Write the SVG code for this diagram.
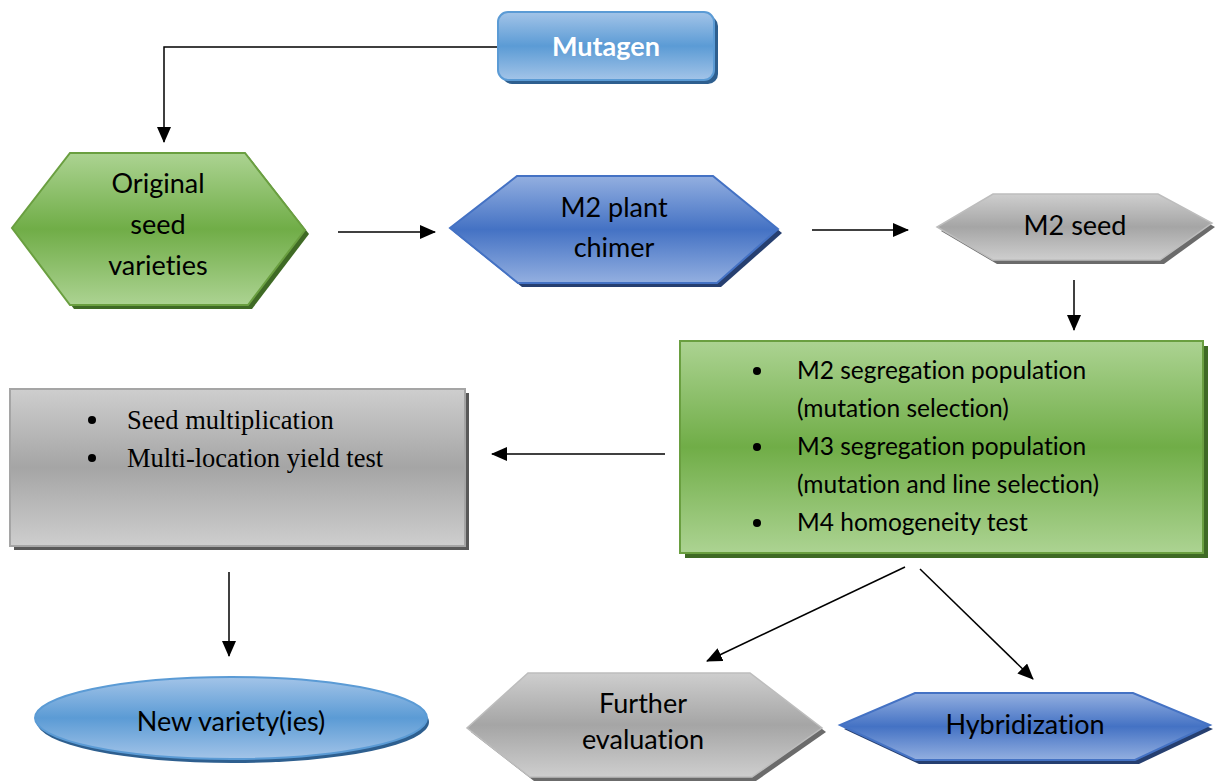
<svg xmlns="http://www.w3.org/2000/svg" width="1215" height="781" viewBox="0 0 1215 781">
<defs>
<linearGradient id="gBlueL" x1="0" y1="0" x2="0" y2="1">
<stop offset="0" stop-color="#a3c4e8"/><stop offset="0.5" stop-color="#5b9bd5"/><stop offset="1" stop-color="#a3c4e8"/>
</linearGradient>
<linearGradient id="gBlue" x1="0" y1="0" x2="0" y2="1">
<stop offset="0" stop-color="#93afe0"/><stop offset="0.5" stop-color="#4472c4"/><stop offset="1" stop-color="#93afe0"/>
</linearGradient>
<linearGradient id="gGreen" x1="0" y1="0" x2="0" y2="1">
<stop offset="0" stop-color="#acd392"/><stop offset="0.5" stop-color="#70ad47"/><stop offset="1" stop-color="#acd392"/>
</linearGradient>
<linearGradient id="gGray" x1="0" y1="0" x2="0" y2="1">
<stop offset="0" stop-color="#cecece"/><stop offset="0.5" stop-color="#a5a5a5"/><stop offset="1" stop-color="#cecece"/>
</linearGradient>
<marker id="ah" markerUnits="userSpaceOnUse" markerWidth="16" markerHeight="14" refX="15" refY="7" orient="auto">
<path d="M0,0 L16,7 L0,14 z" fill="#000"/>
</marker>
</defs>
<style>
.t{font-family:Lato,"Open Sans","Liberation Sans",sans-serif;font-size:27px;fill:#000;text-anchor:middle;font-variant-ligatures:none}
.b{font-family:Lato,"Open Sans","Liberation Sans",sans-serif;font-size:24.5px;fill:#000;font-variant-ligatures:none}
.s{font-family:"Liberation Serif",serif;font-size:26.5px;fill:#000}
.c{fill:none;stroke:#000;stroke-width:1.5}
</style>
<rect width="1215" height="781" fill="#fff"/>

<g id="mutagen">
<rect x="502" y="16" width="216" height="68" rx="10" fill="#2e5f8f"/>
<rect x="498" y="12" width="216" height="68" rx="10" fill="url(#gBlueL)" stroke="#5b9bd5" stroke-width="2"/>
<text x="606" y="56" class="t" style="fill:#fff;font-weight:bold">Mutagen</text>
</g>

<g id="original">
<polygon points="74,157 249,157 309,234 252,309 74,309 16,232" fill="#3f6a25"/>
<polygon points="70,153 245,153 305,230 248,305 70,305 12,228" fill="url(#gGreen)" stroke="#6a9f40" stroke-width="2"/>
<text x="158" y="193" class="t">Original</text>
<text x="158" y="234" class="t">seed</text>
<text x="158" y="275" class="t">varieties</text>
</g>

<g id="m2plant">
<polygon points="521,180 717,180 782,233 721,287 522,287 454,232" fill="#263f70"/>
<polygon points="517,176 713,176 778,229 717,283 518,283 450,228" fill="url(#gBlue)" stroke="#4472c4" stroke-width="2"/>
<text x="614" y="217" class="t">M2 plant</text>
<text x="614" y="257" class="t">chimer</text>
</g>

<g id="m2seed">
<polygon points="997,198 1162,198 1215,227 1164,264 997,264 941,231" fill="#6b6b6b"/>
<polygon points="993,194 1158,194 1212,223 1160,260 993,260 937,227" fill="url(#gGray)" stroke="#bdbdbd" stroke-width="1.5"/>
<text x="1075" y="235" class="t">M2 seed</text>
</g>

<g id="segregation">
<rect x="685" y="346" width="523" height="212" fill="#3f6a25"/>
<rect x="680" y="341" width="523" height="212" fill="url(#gGreen)" stroke="#6a9f40" stroke-width="2"/>
<circle cx="757" cy="371" r="4"/>
<circle cx="757" cy="447" r="4"/>
<circle cx="757" cy="523" r="4"/>
<text x="797" y="379" class="b">M2 segregation population</text>
<text x="797" y="417" class="b">(mutation selection)</text>
<text x="797" y="455" class="b">M3 segregation population</text>
<text x="797" y="493" class="b">(mutation and line selection)</text>
<text x="797" y="531" class="b">M4 homogeneity test</text>
</g>

<g id="multiplication">
<rect x="14" y="393" width="455" height="157" fill="#595959"/>
<rect x="10" y="389" width="455" height="157" fill="url(#gGray)" stroke="#a5a5a5" stroke-width="2"/>
<circle cx="92" cy="420" r="4"/>
<circle cx="92" cy="458" r="4"/>
<text x="127" y="429" class="s">Seed multiplication</text>
<text x="127" y="467" class="s">Multi-location yield test</text>
</g>

<g id="newvariety">
<ellipse cx="233" cy="722" rx="196" ry="41" fill="#2e5f8f"/>
<ellipse cx="231" cy="718" rx="196" ry="41" fill="url(#gBlueL)" stroke="#5b9bd5" stroke-width="2"/>
<text x="231" y="731" class="t">New variety(ies)</text>
</g>

<g id="further">
<polygon points="532,677 754,677 826,732 756,781 534,781 471,732" fill="#6b6b6b"/>
<polygon points="528,673 750,673 822,728 752,777 530,777 467,728" fill="url(#gGray)" stroke="#bdbdbd" stroke-width="1.5"/>
<text x="643" y="713" class="t">Further</text>
<text x="643" y="749" class="t">evaluation</text>
</g>

<g id="hybridization">
<polygon points="919,697 1137,697 1213,729 1139,764 919,764 844,729" fill="#263f70"/>
<polygon points="915,693 1133,693 1210,725 1135,760 915,760 840,725" fill="url(#gBlue)" stroke="#4472c4" stroke-width="2"/>
<text x="1025" y="734" class="t">Hybridization</text>
</g>

<g id="connectors">
<polyline class="c" points="497,47 164,47 164,142" marker-end="url(#ah)"/>
<line class="c" x1="338" y1="232" x2="435" y2="232" marker-end="url(#ah)"/>
<line class="c" x1="812" y1="230" x2="908" y2="230" marker-end="url(#ah)"/>
<line class="c" x1="1074" y1="280" x2="1074" y2="330" marker-end="url(#ah)"/>
<line class="c" x1="665" y1="454" x2="492" y2="454" marker-end="url(#ah)"/>
<line class="c" x1="229" y1="572" x2="229" y2="656" marker-end="url(#ah)"/>
<line class="c" x1="905" y1="567" x2="707" y2="661" marker-end="url(#ah)"/>
<line class="c" x1="920" y1="569" x2="1033" y2="679" marker-end="url(#ah)"/>
</g>
</svg>
